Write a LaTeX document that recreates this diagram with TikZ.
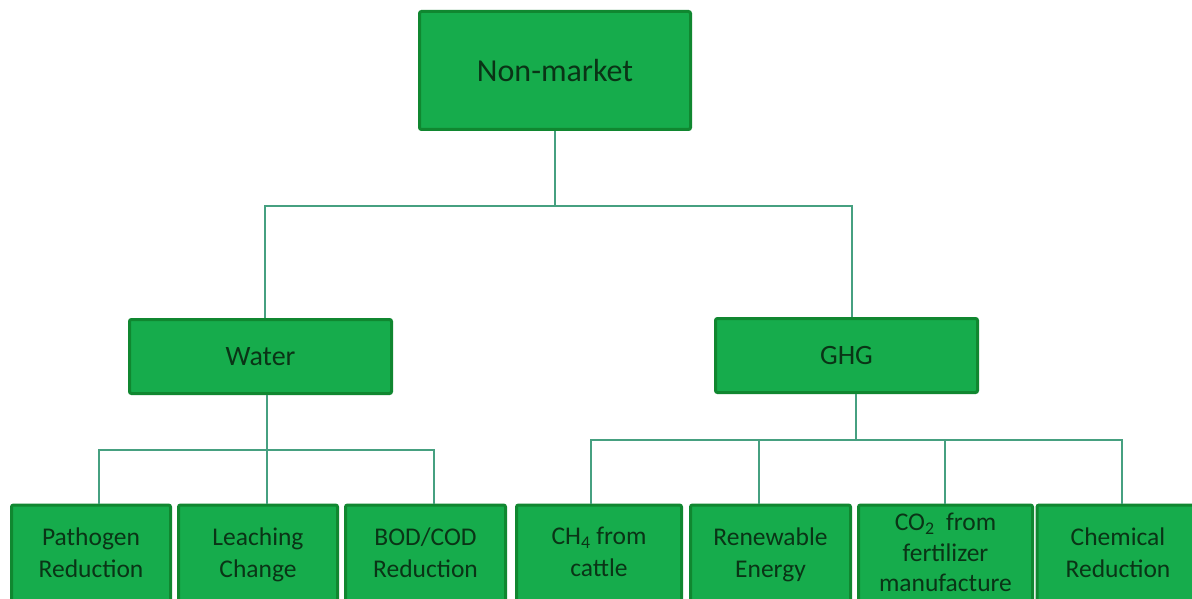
\documentclass[tikz,border=0pt]{standalone}
\usepackage{fontspec}
\setmainfont{Carlito}
\definecolor{boxfill}{RGB}{22,172,76}
\definecolor{boxline}{RGB}{16,135,48}
\definecolor{boxtext}{RGB}{10,52,22}
\definecolor{connc}{RGB}{70,160,128}
\tikzset{
  gbox/.style={draw=boxline, fill=boxfill, line width=3pt, rounded corners=2pt,
    text=boxtext, align=center, inner sep=0pt},
  topbox/.style={gbox, minimum width=271pt, minimum height=118pt, font=\fontsize{32}{38}\selectfont},
  midbox/.style={gbox, minimum width=262pt, minimum height=74pt, font=\fontsize{28}{34}\selectfont},
  leafbox/.style={gbox, minimum height=104pt, font=\fontsize{25.5}{32}\selectfont,
    execute at begin node=\strut, execute at end node=\strut},
  conn/.style={draw=connc, line width=1.5pt}
}
\begin{document}
\begin{tikzpicture}[x=1pt,y=-1pt]
\useasboundingbox (0,0) rectangle (1192,599);
\clip (0,0) rectangle (1192,599);
\fill[white] (0,0) rectangle (1192,599);

% nodes
\node[topbox] (top) at (555,70.5) {Non-market};
\node[midbox] (water) at (260.5,356.5) {Water};
\node[midbox] (ghg) at (846.5,355.5) {GHG};

\node[leafbox, minimum width=159pt] (b1) at (91,557) {Pathogen\\Reduction};
\node[leafbox, minimum width=159pt] (b2) at (258,557) {Leaching\\Change};
\node[leafbox, minimum width=160pt] (b3) at (425.5,557) {BOD/COD\\Reduction};
\node[leafbox, minimum width=165pt] (b4) at (599,557) {CH\textsubscript{4} from\\cattle};
\node[leafbox, minimum width=160pt] (b5) at (770.5,557) {Renewable\\Energy};
\node[leafbox, minimum width=174pt, font=\fontsize{25.5}{30.5}\selectfont] (b6) at (945.5,557) {CO\textsubscript{2}\ \ from\\fertilizer\\manufacture};
\node[leafbox, minimum width=162pt] (b7) at (1118,557) {Chemical\\Reduction};

% bus coordinates
\coordinate (bus1) at (555,206);
\coordinate (bus2) at (267,450);
\coordinate (bus3) at (856,440);

% connectors
\draw[conn] (top.south) -- (bus1);
\draw[conn] (bus1) -| ([xshift=4.5pt]water.north);
\draw[conn] (bus1) -| ([xshift=5.5pt]ghg.north);

\draw[conn] ([xshift=6.5pt]water.south) -- (bus2);
\draw[conn] (bus2) -| ([xshift=8pt]b1.north);
\draw[conn] (bus2) -| ([xshift=9pt]b2.north);
\draw[conn] (bus2) -| ([xshift=8.5pt]b3.north);

\draw[conn] ([xshift=9.5pt]ghg.south) -- (bus3);
\draw[conn] (bus3) -| ([xshift=-8pt]b4.north);
\draw[conn] (bus3) -| ([xshift=-11.5pt]b5.north);
\draw[conn] (bus3) -| ([xshift=-0.5pt]b6.north);
\draw[conn] (bus3) -| ([xshift=4pt]b7.north);
\end{tikzpicture}
\end{document}
